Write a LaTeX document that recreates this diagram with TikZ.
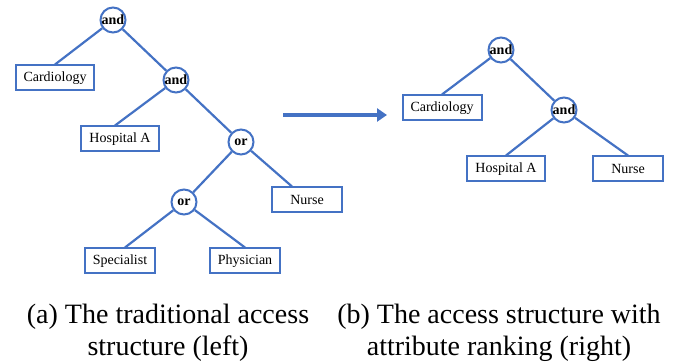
\documentclass[tikz,border=0pt]{standalone}
\usepackage{fontspec}
\setmainfont{Liberation Serif}
\usepackage{tikz}
\usetikzlibrary{positioning, calc, arrows.meta}
\definecolor{treeblue}{HTML}{4472C4}

\begin{document}
\begin{tikzpicture}[x=1pt, y=-1pt]
  \tikzstyle{gate}=[circle, draw=treeblue, line width=2pt, fill=white, inner sep=0pt,
  minimum size=25pt, font=\fontsize{14}{14}\selectfont\bfseries]
  \tikzstyle{attr}=[draw=treeblue, line width=2pt, fill=white, inner xsep=8pt,
  minimum width=70pt, minimum height=25pt, font=\fontsize{14}{14}\selectfont]
  \tikzstyle{edge}=[draw=treeblue, line width=2.2pt]
  \tikzstyle{caption}=[align=center, font=\fontsize{28}{32}\selectfont]

  \useasboundingbox (0,0) rectangle (675,363);

  % traditional access structure
  \node (andl1) at (113,20) [gate] {and};
  \node (andl2) at (176,80) [gate] {and};
  \node (orl1) at (241,142) [gate] {or};
  \node (orl2) at (184,202) [gate] {or};
  \node (cardl) at (55,78) [attr] {Cardiology};
  \node (hospl) at (120,139) [attr] {Hospital A};
  \node (nursel) at (307,200) [attr] {Nurse};
  \node (spec) at (120,261) [attr] {Specialist};
  \node (phys) at (245,261) [attr] {Physician};

  \draw[edge] (andl1) -- (cardl.north);
  \draw[edge] (andl1) -- (andl2);
  \draw[edge] (andl2) -- ([xshift=-5pt]hospl.north);
  \draw[edge] (andl2) -- (orl1);
  \draw[edge] (orl1) -- (orl2);
  \draw[edge] (orl1) -- ([xshift=-15pt]nursel.north);
  \draw[edge] (orl2) -- ([xshift=5pt]spec.north);
  \draw[edge] (orl2) -- (phys.north);

  % ranking arrow
  \coordinate (arrs) at (283,115);
  \coordinate (arre) at (387,115);
  \draw[treeblue, line width=4pt, -{Triangle[length=10pt, width=13pt]}] (arrs) -- (arre);

  % access structure with ranking
  \node (andr1) at (501,50) [gate] {and};
  \node (andr2) at (564,110) [gate] {and};
  \node (cardr) at (442,108) [attr] {Cardiology};
  \node (hospr) at (506,169) [attr] {Hospital A};
  \node (nurser) at (628,169) [attr] {Nurse};

  \draw[edge] (andr1) -- (cardr.north);
  \draw[edge] (andr1) -- (andr2);
  \draw[edge] (andr2) -- (hospr.north);
  \draw[edge] (andr2) -- (nurser.north);

  \node (capa) at (168,333) [caption] {(a) The traditional access\\structure (left)};
  \node (capb) at (499,333) [caption] {(b) The access structure with\\attribute ranking (right)};
\end{tikzpicture}
\end{document}
